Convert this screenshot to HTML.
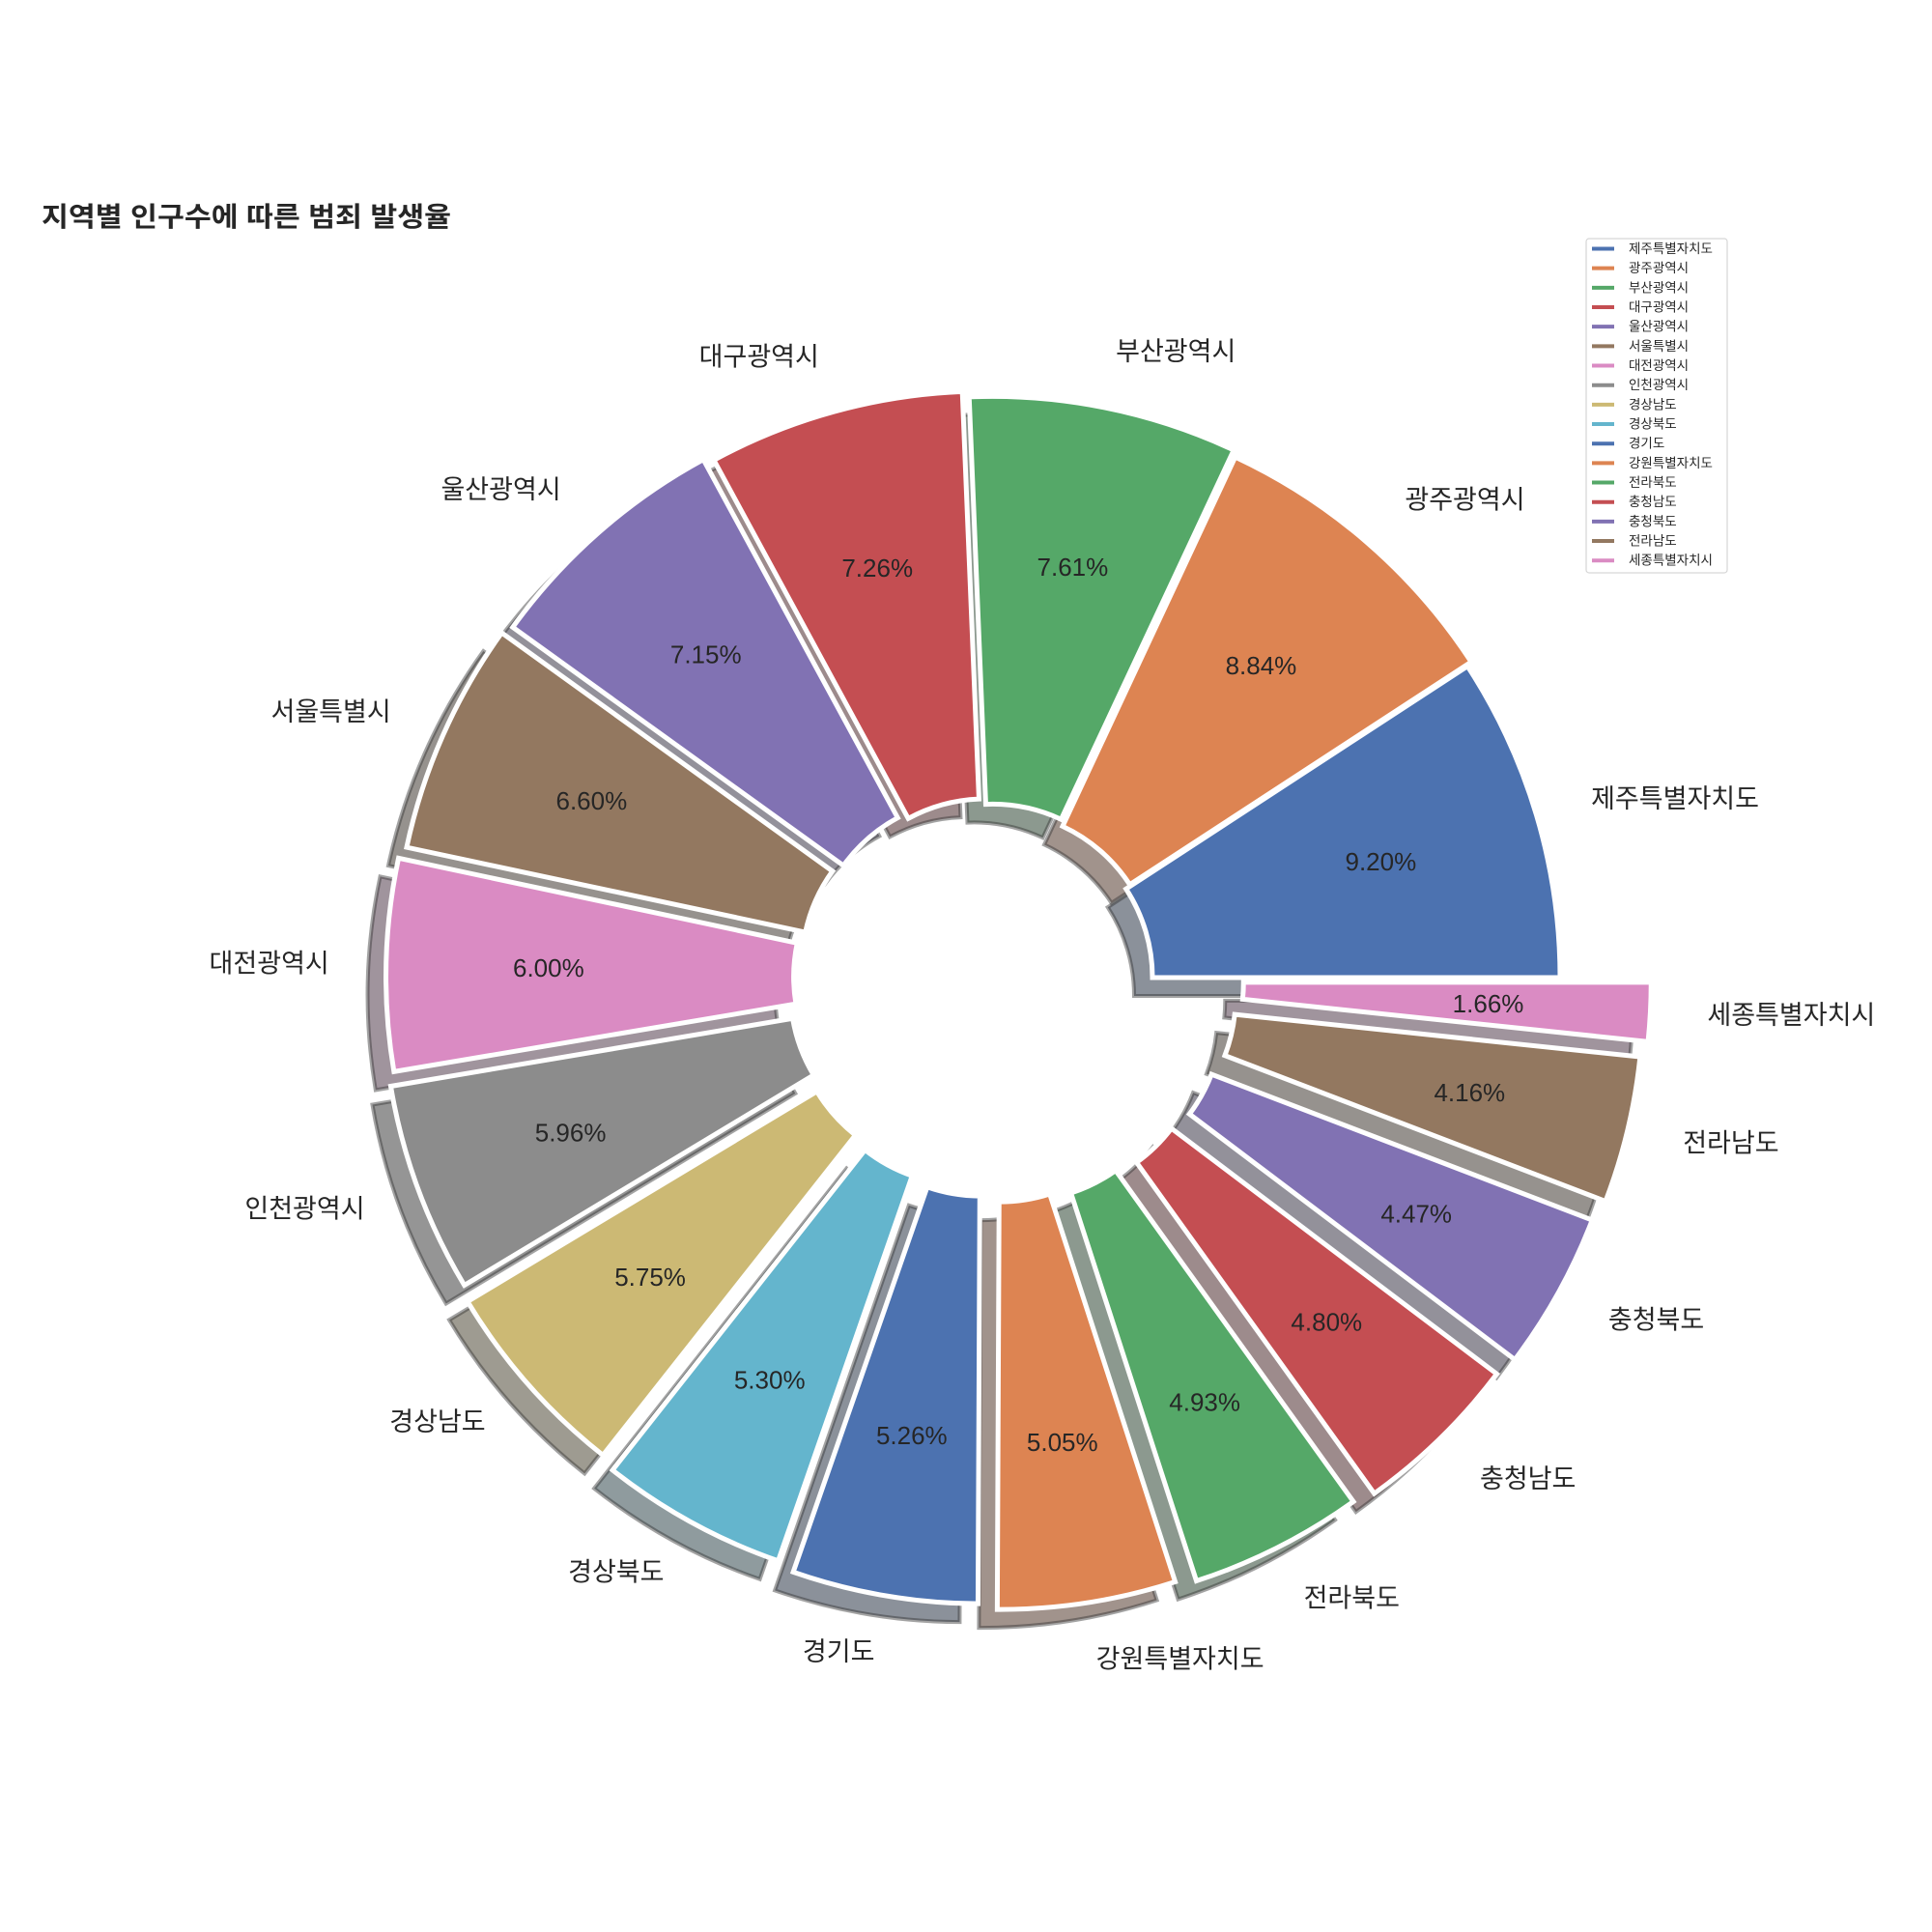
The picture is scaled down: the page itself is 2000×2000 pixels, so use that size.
<!DOCTYPE html>
<html><head><meta charset="utf-8">
<style>
html,body{margin:0;padding:0;background:#fff;}
svg{display:block;}
text{font-family:"Liberation Sans","Noto Sans CJK KR",sans-serif;fill:#262626;}
</style></head>
<body>
<svg id="chart" width="2000" height="2000" viewBox="0 0 2000 2000" xmlns="http://www.w3.org/2000/svg">
<text x="43" y="234" font-size="28" font-weight="bold" textLength="424" lengthAdjust="spacingAndGlyphs">지역별 인구수에 따른 범죄 발생율</text>
<g id="shadows"></g>
<g id="wedges"></g>
<g id="labels"></g>
<g id="legend"></g>
</svg>
<script>
const categories = ["제주특별자치도","광주광역시","부산광역시","대구광역시","울산광역시","서울특별시","대전광역시","인천광역시","경상남도","경상북도","경기도","강원특별자치도","전라북도","충청남도","충청북도","전라남도","세종특별자치시"];
const values = [9.20,8.84,7.61,7.26,7.15,6.60,6.00,5.96,5.75,5.30,5.26,5.05,4.93,4.80,4.47,4.16,1.66];
const pctLabels = ["9.20%","8.84%","7.61%","7.26%","7.15%","6.60%","6.00%","5.96%","5.75%","5.30%","5.26%","5.05%","4.93%","4.80%","4.47%","4.16%","1.66%"];

const palette = ["#4C72B0","#DD8452","#55A868","#C44E52","#8172B3","#937860","#DA8BC3","#8C8C8C","#CCB974","#64B5CD"];
const NS = "http://www.w3.org/2000/svg";
const CX = 1025, CY = 1012, R = 590, R0 = 168;
const SHX = -19, SHY = 19;
const total = values.reduce((a,b)=>a+b,0);

function pt(x,y,r,deg){const t=deg*Math.PI/180;return [x+r*Math.cos(t), y-r*Math.sin(t)];}
function wedgePath(x,y,a1,a2){
  const large = (a2-a1)>180?1:0;
  const o1=pt(x,y,R,a1), o2=pt(x,y,R,a2), i2=pt(x,y,R0,a2), i1=pt(x,y,R0,a1);
  return `M${o1[0]},${o1[1]} A${R},${R} 0 ${large} 0 ${o2[0]},${o2[1]} L${i2[0]},${i2[1]} A${R0},${R0} 0 ${large} 1 ${i1[0]},${i1[1]} Z`;
}
function shade(hex){
  const n=parseInt(hex.slice(1),16);
  const c=[(n>>16)&255,(n>>8)&255,n&255].map(v=>Math.round(0.5*0.3*v+127.5));
  return `rgb(${c[0]},${c[1]},${c[2]})`;
}

const gS=document.getElementById('shadows'), gW=document.getElementById('wedges'), gL=document.getElementById('labels'), gLeg=document.getElementById('legend');
let acc=0;
values.forEach((v,i)=>{
  const a1=acc/total*360, a2=(acc+v)/total*360; acc+=v;
  const mid=(a1+a2)/2;
  const ex=0.01*i*R;
  const [x,y]=pt(CX,CY,ex,mid);
  const col=palette[i%palette.length];
  const d=wedgePath(x,y,a1,a2);

  const s=document.createElementNS(NS,'path');
  s.setAttribute('d',d);
  s.setAttribute('transform',`translate(${SHX},${SHY})`);
  s.setAttribute('fill',shade(col));
  s.setAttribute('stroke','rgba(50,50,50,0.45)');
  s.setAttribute('stroke-width','4');
  
  
  gS.appendChild(s);

  const w=document.createElementNS(NS,'path');
  w.setAttribute('d',d);
  w.setAttribute('fill',col);
  w.setAttribute('stroke','#ffffff');
  w.setAttribute('stroke-width','5');
  w.setAttribute('stroke-linejoin','miter');
  
  
  gW.appendChild(w);

  const [lx,ly]=pt(x,y,1.1*R,mid);
  const t=document.createElementNS(NS,'text');
  t.setAttribute('x',lx); t.setAttribute('y',ly);
  t.setAttribute('font-size','27');
  t.setAttribute('dominant-baseline','central');
  t.setAttribute('text-anchor', lx>=x ? 'start':'end');
  t.textContent=categories[i];
  
  
  gL.appendChild(t);

  const [px,py]=pt(x,y,0.715*R,mid);
  const p=document.createElementNS(NS,'text');
  p.setAttribute('x',px); p.setAttribute('y',py);
  p.setAttribute('font-size','26');
  p.setAttribute('dominant-baseline','central');
  p.setAttribute('text-anchor','middle');
  p.textContent=pctLabels[i];
  
  
  gL.appendChild(p);
});

// legend
const box=document.createElementNS(NS,'rect');
box.setAttribute('x',1642); box.setAttribute('y',247); box.setAttribute('width',146); box.setAttribute('height',346);
box.setAttribute('rx',3); box.setAttribute('fill','#fff'); box.setAttribute('stroke','#d6d6d6'); box.setAttribute('stroke-width','1.2');


gLeg.appendChild(box);
categories.forEach((c,i)=>{
  const y=257.5+i*20.17;
  const l=document.createElementNS(NS,'line');
  l.setAttribute('x1',1648); l.setAttribute('x2',1671); l.setAttribute('y1',y); l.setAttribute('y2',y);
  l.setAttribute('stroke',palette[i%palette.length]); l.setAttribute('stroke-width','4');
  
  
  gLeg.appendChild(l);
  const t=document.createElementNS(NS,'text');
  t.setAttribute('x',1686); t.setAttribute('y',y); t.setAttribute('font-size','13.5');
  t.setAttribute('dominant-baseline','central');
  t.textContent=c;
  
  
  gLeg.appendChild(t);
});
</script>
</body></html>
